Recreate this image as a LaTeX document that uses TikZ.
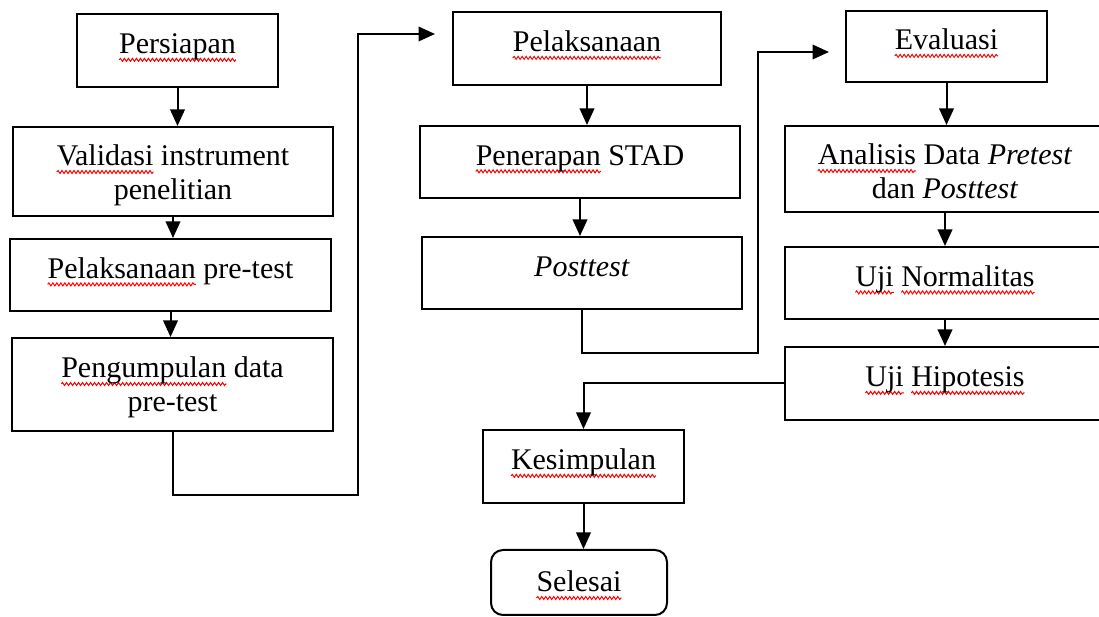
\documentclass[tikz,border=0pt]{standalone}
\usepackage{fontspec}
\setmainfont{Liberation Serif}
\usetikzlibrary{arrows.meta,decorations.pathmorphing}
\tikzset{%
  tipA/.tip={Triangle[length=6.6pt,width=5.8pt]},
  box/.style={draw, line width=0.8pt, align=center, inner sep=0pt,
    font=\fontsize{12pt}{13.6pt}\selectfont},
  oneline/.style={text height=8.6pt, text depth=5.9pt},
  flow/.style={line width=0.8pt},
  arr/.style={flow, -tipA},
  squiggle/.style={red, line width=0.4pt, sharp corners, decorate,
    decoration={snake,amplitude=0.6pt,segment length=1.6pt}}
}
% red squiggle under the words the spell checker marked
\newlength{\spellwd}
\newcommand{\spell}[1]{\settowidth{\spellwd}{#1}%
  \rlap{\tikz[overlay,baseline=0pt]\draw[squiggle] (0pt,-2.4pt) -- (\spellwd,-2.4pt);}#1}

\begin{document}
\begin{tikzpicture}[x=0.4pt,y=-0.4pt]
\useasboundingbox (0,0) rectangle (1099,617);
% first column
\node[box,oneline,minimum width=80.4pt,minimum height=29.2pt] (persiapan) at (177.5,50.5) {\spell{Persiapan}};
\node[box,text height=23pt,text depth=0.2pt,minimum width=128pt,minimum height=35.6pt] (validasi) at (173,171.5) {\spell{Validasi} instrument\\ penelitian};
\node[box,oneline,minimum width=128.4pt,minimum height=28.8pt] (pretest) at (170.5,275) {\spell{Pelaksanaan} pre-test};
\node[box,text height=23pt,text depth=1pt,minimum width=128.4pt,minimum height=37.2pt] (kumpul) at (172.5,384.5) {\spell{Pengumpulan} data\\ pre-test};
% second column
\node[box,oneline,minimum width=107.2pt,minimum height=29.2pt] (laksana) at (587,48.5) {\spell{Pelaksanaan}};
\node[box,oneline,minimum width=128pt,minimum height=28.8pt] (stad) at (580,162) {\spell{Penerapan} STAD};
\node[box,oneline,minimum width=128pt,minimum height=28.8pt] (posttest) at (582,273) {\textit{Posttest}};
% third column
\node[box,oneline,minimum width=80.4pt,minimum height=28.4pt] (evaluasi) at (946.5,46.5) {\spell{Evaluasi}};
\node[box,text height=24.5pt,text depth=0.5pt,minimum width=128pt,minimum height=34.4pt] (analisis) at (945,169) {\spell{Analisis} Data \textit{Pretest}\\ dan \textit{Posttest}};
\node[box,oneline,minimum width=128pt,minimum height=28.8pt] (normal) at (945,283) {\spell{Uji} \spell{Normalitas}};
\node[box,oneline,minimum width=128pt,minimum height=29.2pt] (hipotesis) at (945,383.5) {\spell{Uji} \spell{Hipotesis}};
% end
\node[box,oneline,minimum width=80.4pt,minimum height=29.2pt] (kesimpulan) at (583.5,466.5) {\spell{Kesimpulan}};
\node[box,text height=9pt,text depth=1.4pt,rounded corners=4.8pt,minimum width=70.4pt,minimum height=26pt] (selesai) at (579,582.5) {\spell{Selesai}};

\coordinate (turnA) at (358,495);
\coordinate (endA) at (435,34);
\coordinate (turnB) at (758,353);
\coordinate (endB) at (829,52);

\draw[arr] (persiapan.south) -- (persiapan.south |- validasi.north);
\draw[arr] (validasi.south) -- (validasi.south |- pretest.north);
\draw[arr] (pretest.south) -- (pretest.south |- kumpul.north);
\draw[arr] (kumpul.south) |- (turnA) |- (endA);
\draw[arr] (laksana.south) -- (laksana.south |- stad.north);
\draw[arr] (stad.south) -- (stad.south |- posttest.north);
\draw[arr] (posttest.south) |- (turnB) |- (endB);
\draw[arr] (evaluasi.south) -- (evaluasi.south |- analisis.north);
\draw[arr] (analisis.south) -- (analisis.south |- normal.north);
\draw[arr] (normal.south) -- (normal.south |- hipotesis.north);
\draw[arr] (hipotesis.west) -| (kesimpulan.north);
\draw[arr] (kesimpulan.south) -- (kesimpulan.south |- selesai.north);
\end{tikzpicture}
\end{document}
